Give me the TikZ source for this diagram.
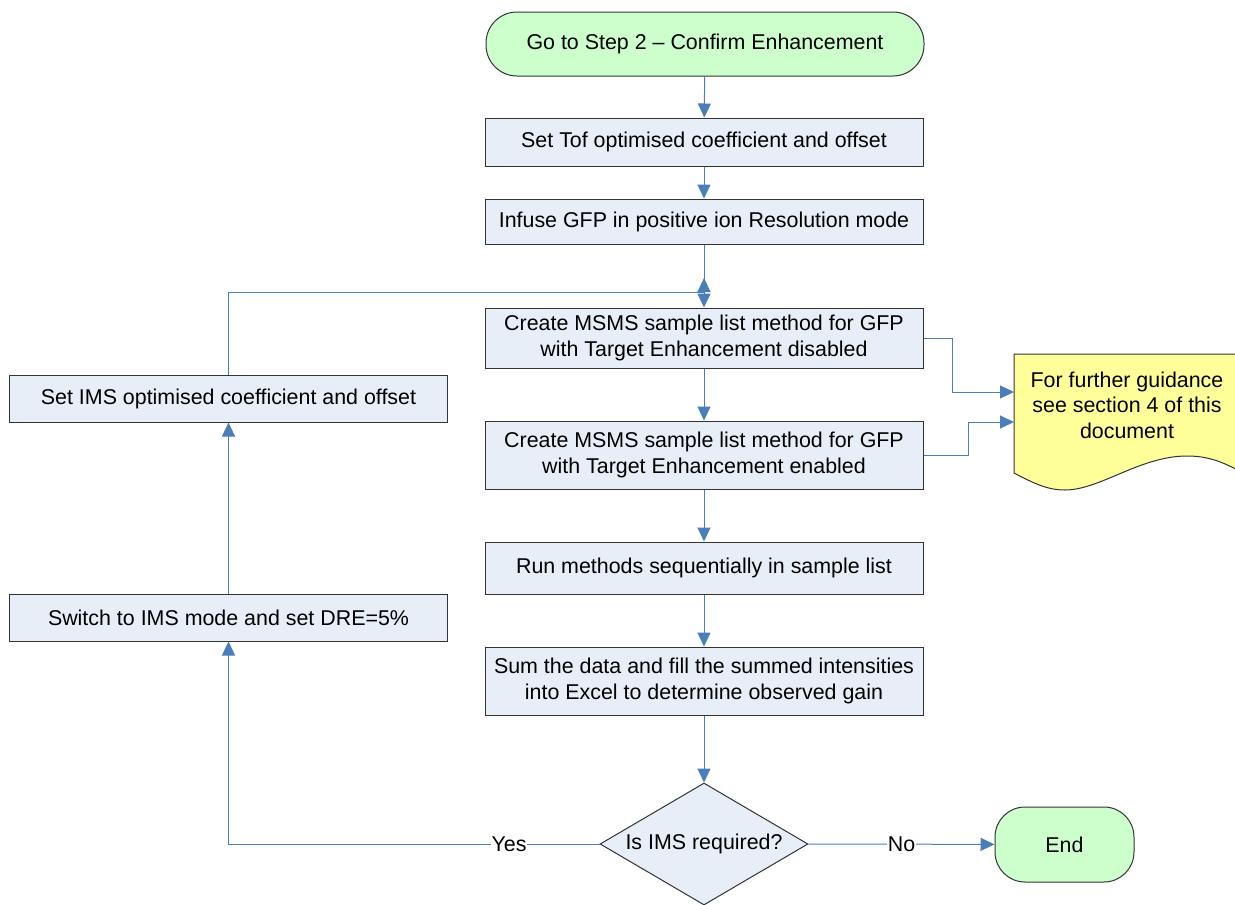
\documentclass[tikz,border=0pt]{standalone}
\usepackage{fontspec}
\setmainfont{Liberation Sans}
\usetikzlibrary{arrows.meta,shapes.geometric}
\definecolor{boxfill}{HTML}{E8EEF7}
\definecolor{termfill}{HTML}{CCFFCC}
\definecolor{notefill}{HTML}{FFFF99}
\definecolor{connblue}{HTML}{4A7EBB}
\begin{document}
\begin{tikzpicture}[x=1pt,y=-1pt,
  font=\fontsize{21.4}{25.5}\selectfont,
  shape border/.style={draw=black!80, line width=1pt},
  procbox/.style={shape border, fill=boxfill, rectangle, minimum width=438pt, minimum height=#1, inner sep=0pt, align=center},
  term/.style={shape border, fill=termfill, rectangle, inner sep=0pt, align=center},
  decision/.style={shape border, fill=boxfill, diamond, minimum width=208pt, minimum height=122pt, inner sep=0pt, aspect=1.7},
  conn/.style={draw=connblue, line width=1pt, -{Triangle[length=14pt,width=13pt]}},
  lbl/.style={fill=white, inner sep=1pt, text=black}
]
\useasboundingbox (0,0) rectangle (1235,905);
\clip (0,0) rectangle (1235,905);

% nodes
\node[term, minimum width=438pt, minimum height=64pt, rounded corners=31pt] (start) at (705,44) {Go to Step 2 -- Confirm Enhancement};
\node[procbox=48pt] (b1) at (704,142) {Set Tof optimised coefficient and offset};
\node[procbox=45pt] (b2) at (704,221.5) {Infuse GFP in positive ion Resolution mode};
\node[procbox=60pt] (b3) at (704,338) {Create MSMS sample list method for GFP\\with Target Enhancement disabled};
\node[procbox=68pt] (b4) at (704,455) {Create MSMS sample list method for GFP\\with Target Enhancement enabled};
\node[procbox=52pt] (b5) at (704,568) {Run methods sequentially in sample list};
\node[procbox=68pt] (b6) at (704,681) {Sum the data and fill the summed intensities\\into Excel to determine observed gain};
\node[decision] (dec) at (704,844) {Is IMS required?};
\node[term, minimum width=139pt, minimum height=75pt, rounded corners=30pt] (end) at (1064.5,844.5) {End};
\node[procbox=47pt] (setims) at (228.5,398.5) {Set IMS optimised coefficient and offset};
\node[procbox=47pt] (sw) at (228.5,617.5) {Switch to IMS mode and set DRE=5\%};

% note (document shape)
\path[shape border, fill=notefill] (1014,473) .. controls (1035,484) and (1048,490) .. (1065,490)
  .. controls (1100,490) and (1140,456) .. (1187,456)
  .. controls (1210,456) and (1225,463) .. (1245,474) -- (1245,354) -- (1014,354) -- cycle;
\node[align=center, inner sep=0pt] (note) at (1127,405) {For further guidance\\see section 4 of this\\document};

% connector coordinates
\coordinate (j) at (704,292);
\coordinate (jt) at (704,278);
\coordinate (k1) at (952,338);
\coordinate (n1) at (1014,392);
\coordinate (k2) at (968,455);
\coordinate (n2) at (1014,422);

% connectors
\draw[conn] (start) -- (b1);
\draw[conn] (b1) -- (b2);
\draw[conn] (b2) -- (b3);
\draw[conn] (setims.north) |- (j) -- (jt);
\draw[conn] (b3) -- (b4);
\draw[conn] (b4) -- (b5);
\draw[conn] (b5) -- (b6);
\draw[conn] (b6) -- (dec);
\draw[conn] (b3.east) -- (k1) |- (n1);
\draw[conn] (b4.east) -- (k2) |- (n2);
\draw[conn] (dec.west) -| (sw.south) node[lbl, pos=0.122] {Yes};
\draw[conn] (dec.east) -- (end) node[lbl, midway] {No};
\draw[conn] (sw) -- (setims);
\end{tikzpicture}
\end{document}
